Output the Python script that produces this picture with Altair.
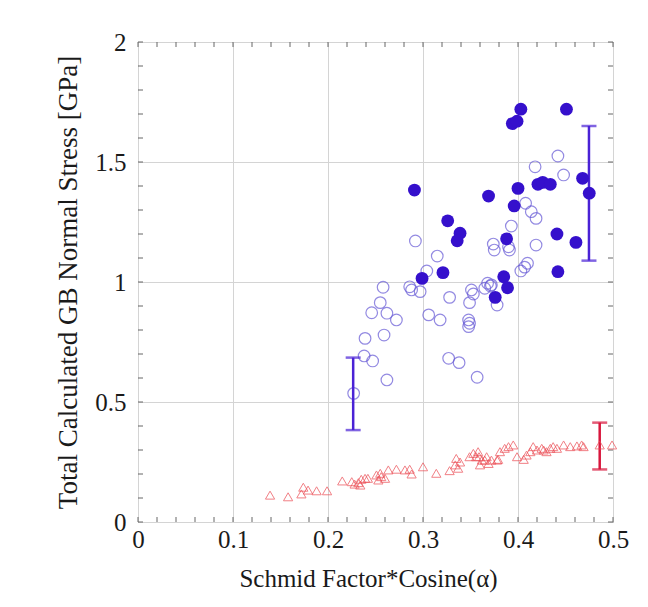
import altair as alt
import pandas as pd

# ---- data ----
open_x = [0.442, 0.418, 0.448, 0.408, 0.414, 0.419, 0.393, 0.292, 0.419, 0.374,
          0.375, 0.390, 0.391, 0.315, 0.403, 0.407, 0.410, 0.304, 0.286, 0.368,
          0.351, 0.288, 0.297, 0.328, 0.353, 0.349, 0.365, 0.371, 0.372, 0.378,
          0.306, 0.318, 0.348, 0.349, 0.348, 0.327, 0.338, 0.357, 0.258, 0.255,
          0.246, 0.262, 0.272, 0.239, 0.259, 0.238, 0.247, 0.262, 0.227]
open_y = [1.525, 1.480, 1.446, 1.328, 1.293, 1.265, 1.233, 1.171, 1.154, 1.158,
          1.133, 1.147, 1.133, 1.108, 1.046, 1.062, 1.078, 1.046, 0.980, 0.995,
          0.967, 0.967, 0.960, 0.936, 0.950, 0.914, 0.974, 0.983, 0.988, 0.904,
          0.863, 0.842, 0.842, 0.828, 0.814, 0.682, 0.664, 0.603, 0.978, 0.914,
          0.872, 0.870, 0.842, 0.765, 0.779, 0.692, 0.671, 0.592, 0.536]

filled_x = [0.403, 0.451, 0.394, 0.399, 0.291, 0.369, 0.400, 0.421, 0.426, 0.434,
            0.468, 0.475, 0.396, 0.326, 0.339, 0.336, 0.441, 0.461, 0.388, 0.321,
            0.442, 0.299, 0.385, 0.389, 0.376]
filled_y = [1.720, 1.720, 1.660, 1.670, 1.383, 1.358, 1.390, 1.407, 1.415, 1.407,
            1.432, 1.370, 1.317, 1.255, 1.203, 1.172, 1.200, 1.165, 1.180, 1.039,
            1.043, 1.015, 1.022, 0.976, 0.936]

tri_x = [0.139, 0.158, 0.172, 0.174, 0.179, 0.188, 0.199, 0.215, 0.225, 0.228,
         0.232, 0.234, 0.235, 0.239, 0.242, 0.251, 0.253, 0.256, 0.260, 0.255,
         0.2635, 0.272, 0.281, 0.286, 0.288, 0.300, 0.314, 0.328, 0.334, 0.335,
         0.339, 0.337, 0.349, 0.353, 0.356, 0.358, 0.359, 0.362, 0.365, 0.367,
         0.369, 0.372, 0.378, 0.379, 0.360, 0.381, 0.386, 0.390, 0.395, 0.399,
         0.406, 0.409, 0.413, 0.416, 0.420, 0.425, 0.427, 0.430, 0.434, 0.437,
         0.441, 0.448, 0.455, 0.462, 0.467, 0.469, 0.486, 0.499]
tri_y = [0.112, 0.105, 0.117, 0.145, 0.133, 0.130, 0.130, 0.171, 0.168, 0.158,
         0.164, 0.154, 0.178, 0.182, 0.182, 0.196, 0.175, 0.189, 0.182, 0.203,
         0.217, 0.220, 0.217, 0.220, 0.200, 0.230, 0.203, 0.214, 0.238, 0.265,
         0.250, 0.224, 0.272, 0.286, 0.272, 0.293, 0.272, 0.258, 0.258, 0.272,
         0.244, 0.258, 0.258, 0.261, 0.238, 0.293, 0.307, 0.314, 0.321, 0.272,
         0.261, 0.279, 0.293, 0.314, 0.300, 0.307, 0.300, 0.293, 0.307, 0.314,
         0.307, 0.321, 0.314, 0.317, 0.321, 0.314, 0.321, 0.321]

err_x = [0.2265, 0.4747, 0.486]
err_lo = [0.383, 1.089, 0.219]
err_hi = [0.685, 1.650, 0.414]
err_group = ["blue", "blue", "red"]

x_major = [0, 0.1, 0.2, 0.3, 0.4, 0.5]
y_major = [0, 0.5, 1, 1.5, 2]
x_minor = [round(i * 0.02, 2) for i in range(26)]
y_minor = [round(i * 0.1, 1) for i in range(21)]

W, H = 475, 480
TICK = 5
FONT = "Liberation Serif"
FILLED = "#3510cc"
OPEN = "#6659d6"
BAR_BLUE = "#4a22d6"
TRI = "#ec4a52"
BAR_RED = "#d8163c"
TICK_COLOR = "#666666"

open_df = pd.DataFrame({"x": open_x, "y": open_y})
filled_df = pd.DataFrame({"x": filled_x, "y": filled_y})
tri_df = pd.DataFrame({"x": tri_x, "y": tri_y})
err_df = pd.DataFrame({"x": err_x, "lo": err_lo, "hi": err_hi, "g": err_group})
xt_df = pd.DataFrame({"t": x_minor})
yt_df = pd.DataFrame({"t": y_minor})

xs = alt.Scale(domain=[0, 0.5], nice=False, zero=False)
ys = alt.Scale(domain=[0, 2], nice=False, zero=False)

main_x = alt.Axis(orient="bottom", values=x_major, format="~g", ticks=False, domain=False,
                  grid=True, gridColor="#d4d4d4", gridWidth=1,
                  labelFont=FONT, labelFontSize=25, labelColor="#1a1a1a", labelPadding=5,
                  labelFlush=False,
                  title="Schmid Factor*Cosine(α)", titleFont=FONT, titleFontSize=25,
                  titleFontWeight="normal", titleColor="#1a1a1a", titleX=230, titleY=64,
                  titleBaseline="alphabetic", titleAlign="center")
main_y = alt.Axis(orient="left", values=y_major, format="~g", ticks=False, domain=False,
                  grid=True, gridColor="#d4d4d4", gridWidth=1,
                  labelFont=FONT, labelFontSize=25, labelColor="#1a1a1a", labelPadding=12,
                  labelFlush=False,
                  title="Total Calculated GB Normal Stress [GPa]", titleFont=FONT,
                  titleFontSize=27, titleFontWeight="normal", titleColor="#1a1a1a",
                  titleX=-62, titleY=240, titleBaseline="alphabetic", titleAlign="center",
                  titleAngle=270)

# inward minor ticks on all four sides of the frame
tx = alt.X("t:Q", scale=xs, axis=None)
ty = alt.Y("t:Q", scale=ys, axis=None)
tick_bottom = alt.Chart(xt_df).mark_rule(color=TICK_COLOR, strokeWidth=1).encode(
    x=tx, y=alt.value(H), y2=alt.value(H - TICK))
tick_top = alt.Chart(xt_df).mark_rule(color=TICK_COLOR, strokeWidth=1).encode(
    x=tx, y=alt.value(0), y2=alt.value(TICK))
tick_left = alt.Chart(yt_df).mark_rule(color=TICK_COLOR, strokeWidth=1).encode(
    y=ty, x=alt.value(0), x2=alt.value(TICK))
tick_right = alt.Chart(yt_df).mark_rule(color=TICK_COLOR, strokeWidth=1).encode(
    y=ty, x=alt.value(W), x2=alt.value(W - TICK))

open_layer = alt.Chart(open_df).mark_point(
    shape="circle", size=135, filled=False, stroke=OPEN, strokeWidth=1.2
).encode(x=alt.X("x:Q", scale=xs, axis=main_x), y=alt.Y("y:Q", scale=ys, axis=main_y))

filled_layer = alt.Chart(filled_df).mark_point(
    shape="circle", size=165, filled=True, fill=FILLED, opacity=1, strokeWidth=0
).encode(x=alt.X("x:Q", scale=xs, axis=None), y=alt.Y("y:Q", scale=ys, axis=None))

tri_layer = alt.Chart(tri_df).mark_point(
    shape="triangle-up", size=85, filled=False, stroke=TRI, strokeWidth=1
).encode(x=alt.X("x:Q", scale=xs, axis=None), y=alt.Y("y:Q", scale=ys, axis=None))

color_scale = alt.Scale(domain=["blue", "red"], range=[BAR_BLUE, BAR_RED])

err_rule = alt.Chart(err_df).mark_rule(strokeWidth=2.5).encode(
    x=alt.X("x:Q", scale=xs, axis=None),
    y=alt.Y("lo:Q", scale=ys, axis=None), y2="hi:Q",
    color=alt.Color("g:N", scale=color_scale, legend=None))
cap_lo = alt.Chart(err_df).mark_tick(orient="horizontal", size=15, thickness=2.5).encode(
    x=alt.X("x:Q", scale=xs, axis=None), y=alt.Y("lo:Q", scale=ys, axis=None),
    color=alt.Color("g:N", scale=color_scale, legend=None))
cap_hi = alt.Chart(err_df).mark_tick(orient="horizontal", size=15, thickness=2.5).encode(
    x=alt.X("x:Q", scale=xs, axis=None), y=alt.Y("hi:Q", scale=ys, axis=None),
    color=alt.Color("g:N", scale=color_scale, legend=None))

chart = alt.layer(
    open_layer, tick_bottom, tick_top, tick_left, tick_right,
    err_rule, cap_lo, cap_hi, tri_layer, filled_layer
).resolve_axis(x="independent", y="independent").properties(
    width=W, height=H,
    autosize=alt.AutoSizeParams(type="none"),
    padding={"left": 130, "top": 34, "right": 27, "bottom": 78},
    background="white",
).configure_view(stroke="#8a8a8a", strokeWidth=1)

chart.save("out.html", embed_options={"renderer": "svg", "actions": False})
